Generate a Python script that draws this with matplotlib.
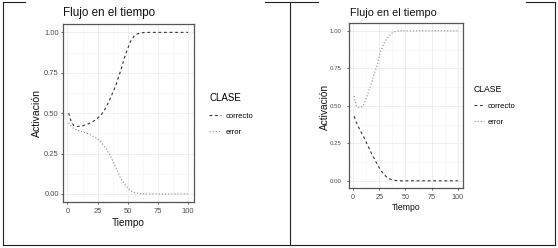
import matplotlib
matplotlib.use("Agg")
import matplotlib.pyplot as plt
from matplotlib.lines import Line2D
from matplotlib.ticker import MultipleLocator

plt.rcParams["font.family"] = ["Liberation Sans", "DejaVu Sans"]

W, H = 558, 248

# ---- data ----
t_izq = [1, 3, 5, 8, 12, 16, 20, 24, 28, 32, 36, 40, 44, 48, 52, 56, 60, 65, 70, 80, 90, 100]
correcto_izq = [0.50, 0.45, 0.425, 0.418, 0.42, 0.43, 0.443, 0.462, 0.49, 0.535, 0.60, 0.67,
                0.76, 0.86, 0.94, 0.985, 0.996, 1.0, 1.0, 1.0, 1.0, 1.0]
error_izq = [0.44, 0.42, 0.405, 0.395, 0.385, 0.375, 0.362, 0.345, 0.32, 0.28, 0.23, 0.165,
             0.10, 0.055, 0.02, 0.008, 0.003, 0.0, 0.0, 0.0, 0.0, 0.0]

t_der = [1, 3, 5, 8, 11, 14, 17, 20, 23, 26, 29, 32, 35, 38, 42, 46, 50, 60, 70, 80, 90, 100]
correcto_der = [0.43, 0.39, 0.36, 0.32, 0.28, 0.235, 0.19, 0.15, 0.11, 0.075, 0.045, 0.025,
                0.012, 0.005, 0.001, 0.0, 0.0, 0.0, 0.0, 0.0, 0.0, 0.0]
error_der = [0.565, 0.50, 0.49, 0.49, 0.52, 0.58, 0.64, 0.71, 0.77, 0.86, 0.91, 0.945,
             0.97, 0.99, 0.998, 1.0, 1.0, 1.0, 1.0, 1.0, 1.0, 1.0]

titulo = "Flujo en el tiempo"
clases = ["correcto", "error"]
xticks = [0, 25, 50, 75, 100]
yticks = [0.0, 0.25, 0.5, 0.75, 1.0]


def px_axes(fig, left, top, right, bottom):
    return fig.add_axes([left / W, 1 - bottom / H, (right - left) / W, (bottom - top) / H])


def panel(ax, t, corr, err, ypad, xpad, xfs, yfs):
    ax.plot(t, corr, color="#333333", lw=0.8, dashes=(2.5, 2.5), label=clases[0])
    ax.plot(t, err, color="#8a8a8a", lw=0.8, dashes=(1, 1.8), label=clases[1])
    ax.set_xlim(-3.95, 104.95)
    ax.set_ylim(-0.05, 1.05)
    ax.set_xticks(xticks)
    ax.set_yticks(yticks)
    ax.set_yticklabels(["%.2f" % v for v in yticks])
    ax.xaxis.set_minor_locator(MultipleLocator(12.5))
    ax.yaxis.set_minor_locator(MultipleLocator(0.125))
    ax.grid(which="major", color="#ebebeb", lw=0.6)
    ax.grid(which="minor", color="#f3f3f3", lw=0.4)
    ax.set_axisbelow(True)
    for s in ax.spines.values():
        s.set_color("#555555")
        s.set_linewidth(0.9)
    ax.tick_params(which="major", length=1.6, width=0.6, color="#444444", labelcolor="#4d4d4d")
    ax.tick_params(axis="y", pad=ypad, labelsize=yfs)
    ax.tick_params(axis="x", pad=xpad, labelsize=xfs)
    ax.tick_params(which="minor", length=0)


fig = plt.figure(figsize=(W / 100, H / 100), dpi=100)

# left chart
ax1 = px_axes(fig, 62.7, 24.3, 194, 202)
panel(ax1, t_izq, correcto_izq, error_izq, 1.2, 3.0, 5.5, 5.5)
fig.text(63 / W, 1 - 13 / H, titulo, fontsize=8.4, va="center", ha="left", color="#111111")
fig.text(37 / W, 1 - 113 / H, "Activación", fontsize=7.6, rotation=90, va="center", ha="center", color="#111111")
fig.text(128 / W, 1 - 223 / H, "Tiempo", fontsize=7.2, va="center", ha="center", color="#111111")
leg1 = ax1.legend(loc="upper left", bbox_to_anchor=(209 / W, 1 - 93 / H), bbox_transform=fig.transFigure,
                  title="CLASE", fontsize=5.5, title_fontsize=7, frameon=False, handlelength=1.6,
                  handletextpad=0.6, labelspacing=1.2, borderpad=0, borderaxespad=0)
leg1._legend_box.align = "left"

# right chart
ax2 = px_axes(fig, 349, 23.3, 463, 188.3)
panel(ax2, t_der, correcto_der, error_der, 3.8, 2.2, 5.2, 4.4)
fig.text(349.7 / W, 1 - 12.7 / H, titulo, fontsize=7.8, va="center", ha="left", color="#111111")
fig.text(325 / W, 1 - 107 / H, "Activación", fontsize=7.3, rotation=90, va="center", ha="center", color="#111111")
fig.text(406 / W, 1 - 208 / H, "Tiempo", fontsize=6.2, va="center", ha="center", color="#111111")
leg2 = ax2.legend(loc="upper left", bbox_to_anchor=(474 / W, 1 - 85 / H), bbox_transform=fig.transFigure,
                  title="CLASE", fontsize=5.5, title_fontsize=6.2, frameon=False, handlelength=1.3,
                  handletextpad=0.5, labelspacing=1.1, borderpad=0, borderaxespad=0)
leg2._legend_box.align = "left"

# table borders
def borde(x0, y0, x1, y1):
    fig.add_artist(Line2D([x0 / W, x1 / W], [1 - y0 / H, 1 - y1 / H], color="#222222", lw=0.8))

borde(3, 2, 3, 245)
borde(3, 245, 555, 245)
borde(290, 2, 290, 245)
borde(555, 2, 555, 245)
borde(3, 2, 25, 2)
borde(265, 2, 318, 2)
borde(526, 2, 555, 2)

fig.savefig("out.png", dpi=100)
